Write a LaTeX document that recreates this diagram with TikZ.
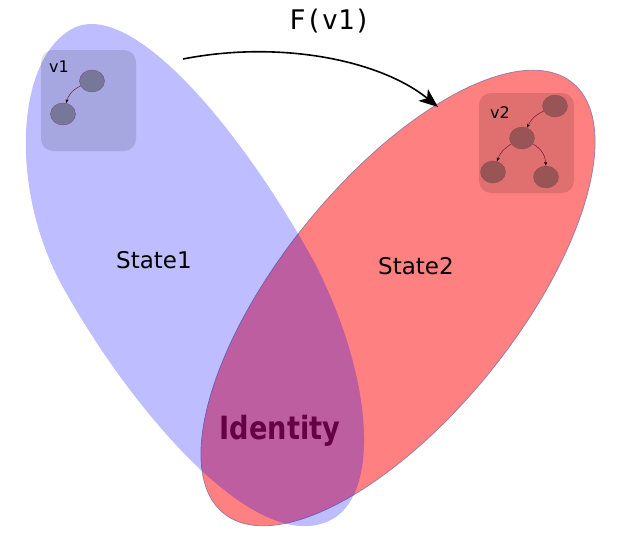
\documentclass[tikz,border=0pt]{standalone}
\usepackage{fontspec}
\setmainfont{DejaVu Sans}
\newfontfamily\monof{DejaVu Sans Mono}
\usetikzlibrary{shapes.geometric,arrows.meta}
\definecolor{redfill}{RGB}{255,128,128}
\definecolor{redline}{RGB}{160,125,160}
\definecolor{idcol}{RGB}{102,0,68}
\definecolor{vonenode}{RGB}{119,119,153}
\definecolor{vtwonode}{RGB}{153,85,85}
\definecolor{smallarrow}{RGB}{120,20,60}
\tikzset{
  setlabel/.style={font=\fontsize{23}{27}\selectfont, anchor=base, inner sep=0},
  vlabel/.style={font=\fontsize{16}{19}\selectfont, anchor=base, inner sep=0},
  vbox/.style={rounded corners=12pt, fill=black, fill opacity=0.12},
  vonestyle/.style={ellipse, fill=vonenode, draw=violet!40!gray, line width=0.4pt, minimum width=25pt, minimum height=22pt, inner sep=0},
  vtwostyle/.style={ellipse, fill=vtwonode, draw=vtwonode!90!black, line width=0.3pt, minimum width=25pt, minimum height=22pt, inner sep=0},
  smallarr/.style={draw=smallarrow, line width=0.5pt, -{Stealth[length=4pt,width=3pt,black]}},
}
\begin{document}
\begin{tikzpicture}[x=1pt, y=-1pt]
\path[use as bounding box] (0,0) rectangle (626,546);
% red set
\filldraw[fill=redfill, draw=redline, line width=0.8pt, rotate around={51:(398,298)}] (398,298) ellipse [x radius=277, y radius=118];
% blue set (egg shape in a rotated frame)
\begin{scope}[shift={(195,282)}, rotate=-61]
\fill[blue, fill opacity=0.26]
  (-281,-15) .. controls (-281,50) and (-170,118) .. (-60,118)
  .. controls (80,118) and (274,80) .. (274,-5)
  .. controls (274,-60) and (170,-110) .. (40,-114)
  .. controls (-120,-114) and (-281,-80) .. cycle;
\end{scope}
% inner boxes
\fill[vbox] (41,50) rectangle (136,151);
\fill[vbox] (479,93) rectangle (574,193);
% v1 graph
\node[vonestyle] (a1) at (92,81) {};
\node[vonestyle] (b1) at (63,114) {};
\draw[smallarr] (a1) to[bend right=25] (b1);
\node[vlabel] (v1) at (59,72) {v1};
% v2 graph
\node[vtwostyle] (a2) at (555,106) {};
\node[vtwostyle] (m2) at (522,138) {};
\node[vtwostyle] (l2) at (493,172) {};
\node[vtwostyle] (r2) at (546,177) {};
\draw[smallarr] (a2) to[bend right=20] (m2);
\draw[smallarr] (m2) to[bend right=20] (l2);
\draw[smallarr] (m2) to[bend left=30] (r2);
\node[vlabel] (v2) at (500,118) {v2};
% labels
\node[setlabel] (s1) at (154,268) {State1};
\node[setlabel] (s2) at (416,274) {State2};
\node[anchor=base, inner sep=0, text=idcol, font=\bfseries\fontsize{32}{36}\selectfont] (id) at (280,439) {\scalebox{0.85}[1]{Identity}};
\node[anchor=base, inner sep=0, font=\monof\fontsize{27}{31}\selectfont] (f) at (330,29) {F(v1)};
% arrow
\coordinate (fs) at (183,59);
\coordinate (fe) at (438,107);
\draw[line width=1.6pt, -{Stealth[length=19pt,width=15pt,inset=5pt]}] (fs) .. controls (280,40) and (380,60) .. (fe);
\end{tikzpicture}
\end{document}
